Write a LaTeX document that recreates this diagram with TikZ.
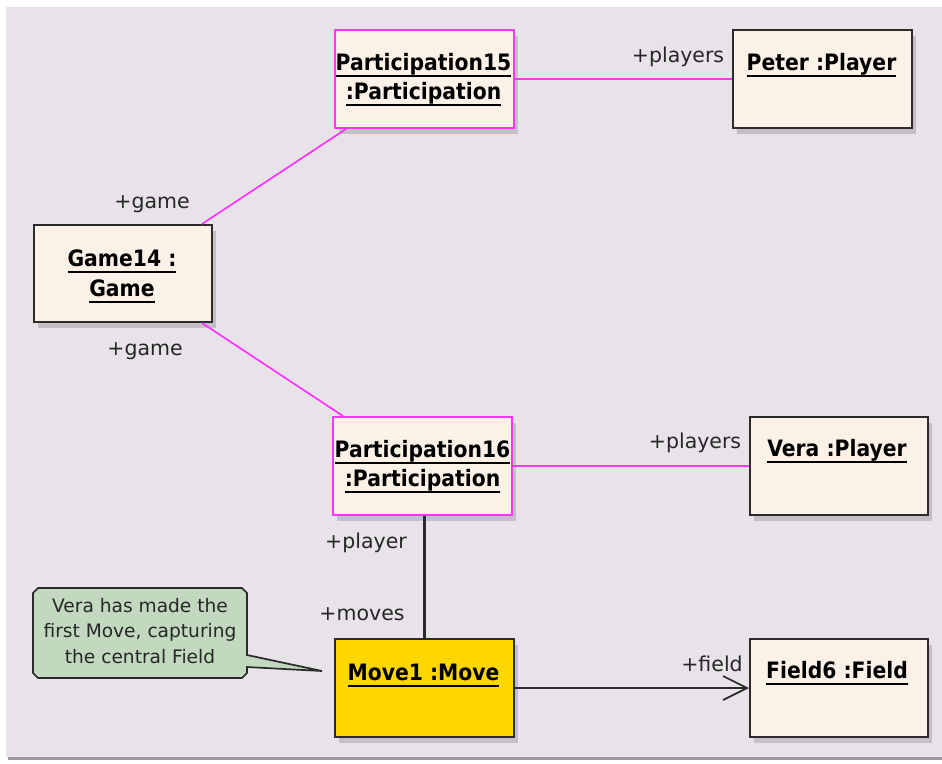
\documentclass[tikz,border=0pt]{standalone}
\usepackage{fontspec}
\setmainfont{DejaVu Sans}
\newfontfamily\objfont[FakeStretch=0.9]{DejaVu Sans}
\usetikzlibrary{calc,shadows,arrows.meta}

% underline drawn as a rule below the baseline
\newsavebox\ulbox
\newcommand{\ulin}[1]{\leavevmode\sbox\ulbox{#1}\rlap{\rule[-6.8pt]{\wd\ulbox}{1.9pt}}\usebox\ulbox}

\definecolor{canvasbg}{HTML}{E7E3E8}
\definecolor{canvasedge}{HTML}{9C989E}
\definecolor{objfill}{HTML}{FCF1E7}
\definecolor{objline}{HTML}{2B2B2B}
\definecolor{linkmag}{HTML}{FF33FF}
\definecolor{movefill}{HTML}{FFD700}
\definecolor{notefill}{HTML}{C2D9C0}
\definecolor{shadowc}{HTML}{C4BFC7}

\tikzset{
  objbox/.style={rectangle, draw=objline, line width=2pt, fill=objfill,
    minimum width=179pt, minimum height=98pt, inner sep=0pt, anchor=north west,
    drop shadow={shadow xshift=4pt, shadow yshift=-6pt, fill=shadowc, opacity=1}},
  partbox/.style={objbox, draw=linkmag},
  movebox/.style={objbox, fill=movefill},
  objtext/.style={anchor=base, inner sep=0pt, font=\objfont\bfseries\fontsize{22.6}{26}\selectfont},
  rolelabel/.style={anchor=base, inner sep=0pt, font=\fontsize{20.5}{24}\selectfont, text=black!85},
  maglink/.style={draw=linkmag, line width=1.7pt},
  blklink/.style={draw=objline, line width=2.2pt},
}

\begin{document}
\begin{tikzpicture}[x=1pt,y=-1pt]
\useasboundingbox (0,0) rectangle (942,763);
% canvas
\fill[white] (0,0) rectangle (942,763);
\fill[canvasedge] (8,755) rectangle (942,760);
\fill[canvasbg] (6,7) rectangle (942,757);

% object boxes
\node[partbox] (p15) at (334,29) {};
\node[objbox] (peter) at (732,29) {};
\node[objbox, minimum width=178pt, minimum height=97pt] (game) at (33,224) {};
\node[partbox] (p16) at (332,416) {};
\node[objbox, minimum width=178pt] (vera) at (749,416) {};
\node[movebox] (move) at (334,638) {};
\node[objbox, minimum width=178pt] (field) at (749,638) {};

% object names
\node[objtext] (p15a) at ($(p15.north)+(-1,41)$) {\ulin{Participation15}};
\node[objtext] (p15b) at ($(p15.north)+(-1,70)$) {\ulin{:Participation}};
\node[objtext] (petert) at ($(peter.north)+(-1,41)$) {\ulin{Peter :Player}};
\node[objtext] (gamea) at ($(game.north)+(-1,42)$) {\ulin{Game14 :}};
\node[objtext] (gameb) at ($(game.north)+(-1,72)$) {\ulin{Game}};
\node[objtext] (p16a) at ($(p16.north)+(0,41)$) {\ulin{Participation16}};
\node[objtext] (p16b) at ($(p16.north)+(0,70)$) {\ulin{:Participation}};
\node[objtext] (verat) at ($(vera.north)+(-2,40)$) {\ulin{Vera :Player}};
\node[objtext] (movet) at ($(move.north)+(-1,42)$) {\ulin{Move1 :Move}};
\node[objtext] (fieldt) at ($(field.north)+(-2,40)$) {\ulin{Field6 :Field}};

% links
\draw[maglink] ($(p15.north east)+(0,50)$) -- ($(peter.north west)+(0,50)$);
\draw[maglink] ($(game.north east)+(-11,0)$) -- ($(p15.south west)+(12,0)$);
\draw[maglink] ($(game.south east)+(-11,0)$) -- ($(p16.north west)+(11,0)$);
\draw[maglink] ($(p16.north east)+(0,50)$) -- ($(vera.north west)+(0,50)$);
\draw[blklink] (move.north |- p16.south) -- (move.north);
\draw[blklink, -{Straight Barb[length=24pt, width=24pt, line width=1.7pt]}]
  ($(move.north east)+(0,50)$) -- ($(field.north west)+(0,50)$);

% role names
\node[rolelabel] (r1) at (678,62) {+players};
\node[rolelabel] (r2) at (152,208) {+game};
\node[rolelabel] (r3) at (145,355) {+game};
\node[rolelabel] (r4) at (695,448) {+players};
\node[rolelabel] (r5) at (366,548) {+player};
\node[rolelabel] (r6) at (362,620) {+moves};
\node[rolelabel] (r7) at (712,671) {+field};

% comment callout
\coordinate (tip) at (322,671);
\filldraw[fill=notefill, draw=objline, line width=1.7pt, line join=miter]
  (38,588) -- (242,588) -- (247,593) -- (247,655) -- (tip) -- (247,667)
  -- (247,673) -- (242,678) -- (38,678) -- (33,673) -- (33,593) -- cycle;
\node[align=center, inner sep=0pt, font=\fontsize{18.6}{25.5}\selectfont, text=black!85]
  (note) at (140,631) {Vera has made the\\first Move, capturing\\the central Field};
\end{tikzpicture}
\end{document}
